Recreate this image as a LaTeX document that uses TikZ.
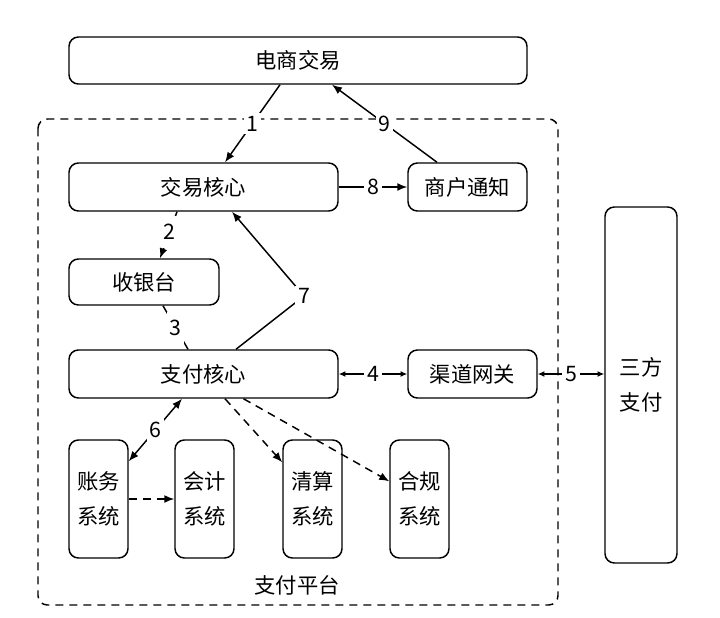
\documentclass[tikz,border=0pt]{standalone}
\usepackage{fontspec}
\newfontfamily\cjk{Noto Sans CJK SC}
\usetikzlibrary{arrows.meta,positioning,calc}

\begin{document}
\begin{tikzpicture}[x=0.75pt, y=-0.75pt, line width=1.1pt,
  box/.style={draw, rounded corners=7pt, align=center, font=\cjk\fontsize{16}{26}\selectfont},
  lbl/.style={fill=white, inner sep=2pt, font=\cjk\fontsize{16}{19}\selectfont},
  arr/.style={-{Latex[length=7.5pt,width=6pt]}},
  dbl/.style={{Latex[length=5pt,width=4.5pt]}-{Latex[length=5pt,width=4.5pt]}},
  darr/.style={arr, dash pattern=on 6pt off 4.5pt}]

\useasboundingbox (0,0) rectangle (720,617);

% Platform frame
\draw[dash pattern=on 6pt off 4.5pt, rounded corners=7pt] (38,119) rectangle (558,605);
\node[lbl] (pt) at (297,585) {支付平台};

% Top
\node[box, minimum width=343.5pt, minimum height=35.25pt] (ec) at (298,60.5) {电商交易};

% Trade layer
\node[box, minimum width=201.75pt, minimum height=36pt] (jy) at (203.5,187) {交易核心};
\node[box, minimum width=89.25pt, minimum height=36pt] (sh) at (467.5,187) {商户通知};
\node[box, minimum width=112.5pt, minimum height=34.5pt] (syt) at (144,282) {收银台};

% Payment layer
\node[box, minimum width=201.75pt, minimum height=36pt] (zf) at (203.5,374) {支付核心};
\node[box, minimum width=96.75pt, minimum height=36pt] (qd) at (472.5,374) {渠道网关};
\node[box, minimum width=54pt, minimum height=267pt] (sf) at (641,385) {三方\\支付};

% Back-office systems
\node[box, minimum width=44.25pt, minimum height=88.5pt] (zw) at (98.5,499) {账务\\系统};
\node[box, minimum width=44.25pt, minimum height=88.5pt] (kj) at (204.5,499) {会计\\系统};
\node[box, minimum width=44.25pt, minimum height=88.5pt] (qs) at (312.5,499) {清算\\系统};
\node[box, minimum width=44.25pt, minimum height=88.5pt] (hg) at (419.5,499) {合规\\系统};

% Flow
\draw[arr] ($(ec.south)+(-18,0)$) -- node[lbl]{1} ($(jy.north)+(21.5,0)$);
\draw[arr] ($(jy.south)+(-26.5,0)$) -- node[lbl, pos=0.44, minimum height=24pt]{2} ($(syt.north)+(16,0)$);
\draw ($(syt.south)+(19,0)$) -- node[lbl, minimum height=24pt]{3} ($(zf.north)+(-15.5,0)$);
\draw[dbl] (zf.east) -- node[lbl]{4} (qd.west);
\draw[dbl] (qd.east) -- node[lbl]{5} (qd.east -| sf.west);
\draw[{Latex[length=7.5pt,width=6pt]}-{Latex[length=7.5pt,width=6pt]}] ($(zf.south)+(-21.5,0)$) -- node[lbl]{6} ($(zw.north east)+(0,22)$);
\coordinate (k7) at (304,296);
\draw[arr] ($(zf.north)+(32.5,0)$) -- (k7) node[lbl]{7} -- ($(jy.south)+(28.5,0)$);
\draw[arr] (jy.east) -- node[lbl]{8} (sh.west);
\draw[arr] ($(sh.north)+(-30.5,0)$) -- node[lbl]{9} ($(ec.south)+(34,0)$);

% Async
\draw[darr] (zw.east) -- (kj.west);
\draw[darr] ($(zf.south)+(21.5,0)$) -- ($(qs.north west)+(0,23)$);
\draw[darr] ($(zf.south)+(40,0)$) -- ($(hg.north west)+(0,42)$);

\end{tikzpicture}
\end{document}
